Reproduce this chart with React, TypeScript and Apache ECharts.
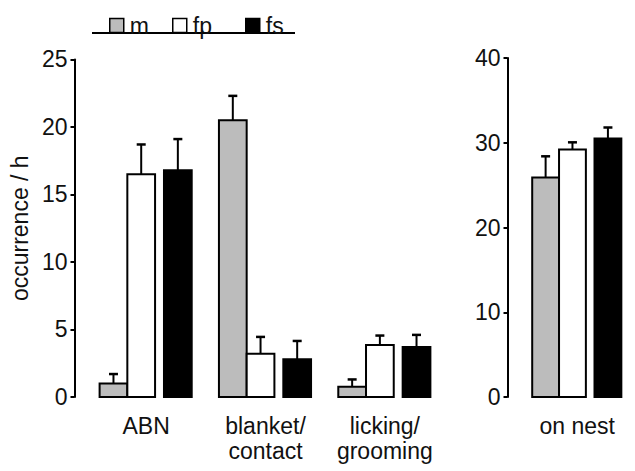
import React, { useEffect, useRef } from "react";
import * as echarts from "echarts";

// ---- data ----
const categories = ["ABN", "blanket/\ncontact", "licking/\ngrooming"];
const seriesNames = ["m", "fp", "fs"];
const mMeans = [1.0, 20.5, 0.75];
const mErrs = [0.7, 1.8, 0.55];
const fpMeans = [16.5, 3.2, 3.85];
const fpErrs = [2.2, 1.25, 0.7];
const fsMeans = [16.8, 2.8, 3.7];
const fsErrs = [2.3, 1.35, 0.9];

const nestCategories = ["on nest"];
const nestMMeans = [25.9];
const nestMErrs = [2.5];
const nestFpMeans = [29.2];
const nestFpErrs = [0.85];
const nestFsMeans = [30.5];
const nestFsErrs = [1.3];

const leftTicks = [0, 5, 10, 15, 20, 25];
const rightTicks = [0, 10, 20, 30, 40];

// ---- styles ----
const FONT = "'Liberation Sans', Arial, sans-serif";
const FS = 23;
const TEXT = "#111111";
const fills = ["#bcbcbc", "#ffffff", "#000000"];
const BAND = 120.5;
const offsets = [-47 / BAND, -19 / BAND, 18 / BAND];
const widthFrac = 28 / BAND;

function makeRender(idx: number) {
  return (params: any, api: any) => {
    const cat = api.value(0);
    const val = api.value(1);
    const err = api.value(2);
    const base = api.coord([cat, 0]);
    const top = api.coord([cat, val]);
    const errTop = api.coord([cat, val + err]);
    const band = api.size([1, 0])[0];
    const w = band * widthFrac;
    const x0 = base[0] + band * offsets[idx];
    const cx = x0 + w / 2;
    return {
      type: "group",
      children: [
        {
          type: "line",
          shape: { x1: cx, y1: top[1], x2: cx, y2: errTop[1] },
          style: { stroke: "#000", lineWidth: 2 },
        },
        {
          type: "line",
          shape: { x1: cx - 4.5, y1: errTop[1], x2: cx + 4.5, y2: errTop[1] },
          style: { stroke: "#000", lineWidth: 2.5 },
        },
        {
          type: "rect",
          shape: { x: x0, y: top[1], width: w, height: base[1] - top[1] },
          style: { fill: fills[idx], stroke: "#000", lineWidth: 2 },
        },
      ],
    };
  };
}

function seriesFor(idx: number, means: number[], errs: number[], gi: number) {
  return {
    type: "custom",
    name: seriesNames[idx],
    xAxisIndex: gi,
    yAxisIndex: gi,
    renderItem: makeRender(idx),
    itemStyle: { color: fills[idx], borderColor: "#000", borderWidth: 1.5 },
    encode: { x: 0, y: 1 },
    data: means.map((v, i) => [i, v, errs[i]]),
    z: 2,
  };
}

const yAxisCommon = (max: number, interval: number) => ({
  type: "value",
  min: 0,
  max,
  interval,
  offset: 12,
  splitLine: { show: false },
  axisLine: { show: true, lineStyle: { color: "#000", width: 2 } },
  axisTick: { show: true, length: 4, lineStyle: { color: "#000", width: 2 } },
  axisLabel: { fontSize: FS, color: TEXT, fontFamily: FONT, margin: 7 },
});

const xAxisCommon = (data: string[], gi: number) => ({
  type: "category",
  gridIndex: gi,
  data,
  axisLine: { show: false },
  axisTick: { show: false },
  axisLabel: {
    fontSize: FS,
    color: TEXT,
    fontFamily: FONT,
    margin: 16,
    lineHeight: 25,
    interval: 0,
  },
});

const legendLefts = [104, 167, 240];

export default function App() {
  const ref = useRef<HTMLDivElement>(null);
  useEffect(() => {
    if (!ref.current) return;
    const chart = echarts.init(ref.current, undefined, { renderer: "svg" });
    chart.setOption({
      animation: false,
      backgroundColor: "#ffffff",
      legend: seriesNames.map((n, i) => ({
        left: legendLefts[i],
        top: 9,
        data: [
          {
            name: n,
            icon: "rect",
            itemStyle: { color: fills[i], borderColor: "#000", borderWidth: 1.5 },
          },
        ],
        itemWidth: 14,
        itemHeight: 14,
        itemGap: 0,
        selectedMode: false,
        textStyle: { fontSize: FS, color: TEXT, fontFamily: FONT, padding: [0, 0, 0, 1] },
      })),
      grid: [
        { left: 83, top: 59.4, width: 3 * BAND, height: 337.6 },
        { left: 519.5, top: 58, width: BAND, height: 339 },
      ],
      xAxis: [xAxisCommon(categories, 0), xAxisCommon(nestCategories, 1)],
      yAxis: [
        {
          ...yAxisCommon(leftTicks[leftTicks.length - 1], leftTicks[1] - leftTicks[0]),
          gridIndex: 0,
          name: "occurrence / h",
          nameLocation: "middle",
          nameGap: 41,
          nameTextStyle: { fontSize: FS, color: TEXT, fontFamily: FONT },
        },
        {
          ...yAxisCommon(rightTicks[rightTicks.length - 1], rightTicks[1] - rightTicks[0]),
          gridIndex: 1,
        },
      ],
      graphic: [
        {
          type: "line",
          shape: { x1: 92, y1: 33, x2: 295, y2: 33 },
          style: { stroke: "#000", lineWidth: 2 },
        },
      ],
      series: [
        seriesFor(0, mMeans, mErrs, 0),
        seriesFor(1, fpMeans, fpErrs, 0),
        seriesFor(2, fsMeans, fsErrs, 0),
        seriesFor(0, nestMMeans, nestMErrs, 1),
        seriesFor(1, nestFpMeans, nestFpErrs, 1),
        seriesFor(2, nestFsMeans, nestFsErrs, 1),
      ],
    });
    return () => chart.dispose();
  }, []);
  return (
    <div
      ref={ref}
      style={{ position: "fixed", left: 0, top: 0, width: 635, height: 471, background: "#fff" }}
    />
  );
}
